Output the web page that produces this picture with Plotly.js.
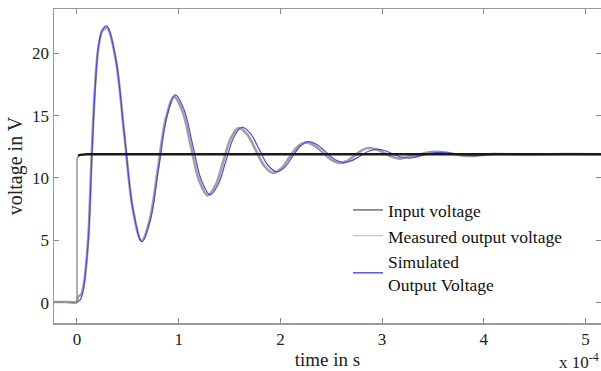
<!DOCTYPE html>
<html>
<head>
<meta charset="utf-8">
<script src="https://cdn.plot.ly/plotly-3.0.1.min.js"></script>
<style>html,body{margin:0;padding:0;background:#fff;}#chart{width:601px;height:371px;}</style>
</head>
<body>
<div id="chart"></div>
<script>
// time in units of 1e-4 s, voltage in V
const inputStepTime = [-0.226, 0, 0, 0.03];
const inputStepVolt = [0.05, 0.05, 11.6, 11.85];
const inputLevelTime = [0.01, 0.03, 0.1, 5.2];
const inputLevelVolt = [11.8, 11.85, 11.9, 11.9];

const measTime = [-0.226, -0.1, 0, 0.008, 0.04, 0.07, 0.09, 0.114, 0.145, 0.178, 0.21, 0.25, 0.295,
  0.38, 0.465, 0.55, 0.635, 0.715, 0.795, 0.875, 0.955, 1.0375, 1.12, 1.2025, 1.285,
  1.361, 1.4375, 1.514, 1.59, 1.675, 1.76, 1.845, 1.93, 2.009, 2.0875, 2.166, 2.245,
  2.331, 2.4175, 2.504, 2.59, 2.66, 2.73, 2.80, 2.87, 2.9475, 3.025, 3.1025, 3.18,
  3.265, 3.35, 3.435, 3.52, 3.605, 3.69, 3.775, 3.86, 4.1, 4.4, 4.8, 5.2];
const measVolt = [0.05, 0.05, 0.05, 0.45, 0.65, 1.6, 3.0, 5.6, 11.9, 17.4, 20.4, 21.8, 22.05,
  19.55, 13.5, 7.46, 4.95, 6.64, 10.73, 14.81, 16.5, 15.34, 12.55, 9.76, 8.6,
  9.39, 11.3, 13.21, 14.0, 13.47, 12.2, 10.93, 10.4, 10.76, 11.63, 12.49, 12.85,
  12.61, 12.03, 11.44, 11.2, 11.38, 11.8, 12.22, 12.4, 12.28, 11.98, 11.68, 11.55,
  11.74, 11.83, 12.02, 12.1, 12.05, 11.93, 11.81, 11.76, 11.92, 11.88, 11.92, 11.9];

const simTime = [0, 0.03, 0.06, 0.085, 0.114, 0.147, 0.18, 0.21, 0.25, 0.292,
  0.379, 0.4655, 0.552, 0.639, 0.721, 0.803, 0.885, 0.967, 1.052, 1.1375, 1.223, 1.308,
  1.386, 1.464, 1.542, 1.62, 1.706, 1.7915, 1.877, 1.963, 2.041, 2.119, 2.197, 2.275,
  2.361, 2.4475, 2.534, 2.62, 2.702, 2.784, 2.865, 2.947, 3.023, 3.099, 3.174, 3.25,
  3.33, 3.405, 3.48, 3.56, 3.64, 3.72, 3.80, 3.88, 4.2, 4.5, 4.8, 5.2];
const simVolt = [0.05, 0.2, 0.9, 2.6, 5.3, 11.84, 17.3, 20.5, 21.9, 22.2,
  19.66, 13.55, 7.43, 4.89, 6.61, 10.78, 14.94, 16.66, 15.49, 12.65, 9.82, 8.64,
  9.44, 11.36, 13.27, 14.07, 13.55, 12.29, 11.02, 10.5, 10.85, 11.71, 12.56, 12.91,
  12.66, 12.07, 11.48, 11.23, 11.39, 11.77, 12.14, 12.3, 12.2, 11.95, 11.7, 11.6,
  11.67, 11.83, 11.98, 12.05, 12.01, 11.93, 11.84, 11.8, 11.92, 11.9, 11.9, 11.9];

const xTicks = [0, 1, 2, 3, 4, 5];
const yTicks = [0, 5, 10, 15, 20];
const legendNames = ['Input voltage', 'Measured output voltage', 'Simulated<br>Output Voltage'];

const serif = 'Liberation Serif, Times New Roman, serif';

const traces = [
  {x: measTime, y: measVolt, mode: 'lines', line: {color: '#a0a0a0', width: 2.6, shape: 'spline', smoothing: 1}, showlegend: false, hoverinfo: 'skip'},
  {x: simTime, y: simVolt, mode: 'lines', line: {color: '#4a4ae8', width: 1.2, shape: 'spline', smoothing: 1}, showlegend: false, hoverinfo: 'skip'},
  {x: inputStepTime, y: inputStepVolt, mode: 'lines', line: {color: '#8a8a8a', width: 1.3}, showlegend: false, hoverinfo: 'skip'},
  {x: inputLevelTime, y: inputLevelVolt, mode: 'lines', line: {color: '#1a1a1a', width: 2.4}, showlegend: false, hoverinfo: 'skip'},
  {x: [null], y: [null], mode: 'lines', name: legendNames[0], line: {color: '#7a7a7a', width: 1.6}},
  {x: [null], y: [null], mode: 'lines', name: legendNames[1], line: {color: '#c4c4c4', width: 1.2}},
  {x: [null], y: [null], mode: 'lines', name: legendNames[2], line: {color: '#4a4ae8', width: 1.4}}
];

const axisCommon = {
  showline: true, linecolor: '#999', linewidth: 1.5, mirror: 'ticks',
  ticks: 'inside', ticklen: 5, tickcolor: '#888', tickwidth: 1,
  showgrid: false, zeroline: false,
  tickfont: {family: serif, size: 17, color: '#222'}
};

const layout = {
  width: 601, height: 371,
  margin: {l: 54, r: 0, t: 9, b: 48},
  paper_bgcolor: '#fff', plot_bgcolor: '#fff',
  showlegend: true,
  legend: {x: 0.5375, y: 0.417, xanchor: 'left', yanchor: 'top', bgcolor: 'rgba(0,0,0,0)', borderwidth: 0,
           font: {family: serif, size: 17.5, color: '#111'}, itemwidth: 30},
  xaxis: Object.assign({}, axisCommon, {range: [-0.226, 5.152], tickvals: xTicks, ticktext: xTicks.map(String),
          title: {text: 'time in s', font: {family: serif, size: 19, color: '#222'}, standoff: 5}}),
  yaxis: Object.assign({}, axisCommon, {range: [-1.63, 23.55], tickvals: yTicks, ticktext: yTicks.map(String),
          title: {text: 'voltage in V', font: {family: serif, size: 20, color: '#222'}, standoff: 4}}),
  annotations: [{xref: 'paper', yref: 'paper', x: 0.9196, y: -0.12, xanchor: 'left', yanchor: 'middle',
                 text: 'x 10<sup>-4</sup>', showarrow: false, font: {family: serif, size: 17, color: '#222'}}]
};

Plotly.newPlot('chart', traces, layout, {displayModeBar: false, staticPlot: true});
</script>
</body>
</html>
